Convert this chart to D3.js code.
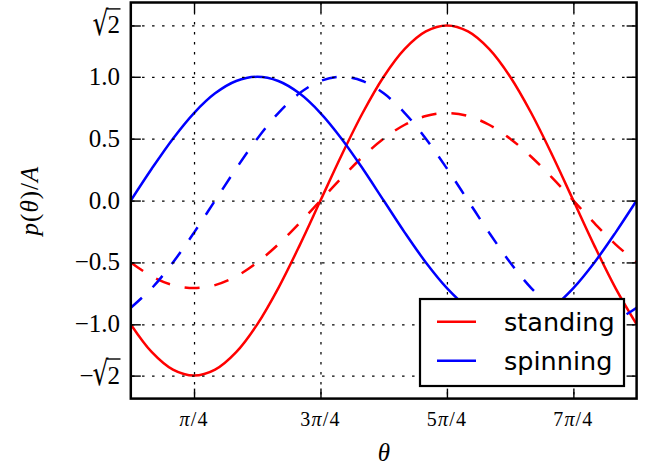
<!DOCTYPE html>
<html>
<head>
<meta charset="utf-8">
<script src="https://cdn.jsdelivr.net/npm/d3@7"></script>
<style>
  body { margin: 0; background: #fff; }
  svg { display: block; }
</style>
</head>
<body>
<svg id="chart" width="656" height="468"></svg>
<script>
// Angle samples (degrees) across one full turn
const thetaDeg = [0, 15, 30, 45, 60, 75, 90, 105, 120, 135, 150, 165, 180,
                  195, 210, 225, 240, 255, 270, 285, 300, 315, 330, 345, 360];

// Standing wave: full amplitude (solid) and half amplitude (dashed)
const standingSolid = [-1.0, -1.2247, -1.3660, -1.4142, -1.3660, -1.2247, -1.0, -0.7071, -0.3660,
                       0.0, 0.3660, 0.7071, 1.0, 1.2247, 1.3660, 1.4142, 1.3660, 1.2247, 1.0,
                       0.7071, 0.3660, 0.0, -0.3660, -0.7071, -1.0];
const standingDashed = [-0.5, -0.6124, -0.6830, -0.7071, -0.6830, -0.6124, -0.5, -0.3536, -0.1830,
                        0.0, 0.1830, 0.3536, 0.5, 0.6124, 0.6830, 0.7071, 0.6830, 0.6124, 0.5,
                        0.3536, 0.1830, 0.0, -0.1830, -0.3536, -0.5];

// Spinning wave: two phases
const spinningSolid = [0.0, 0.2588, 0.5, 0.7071, 0.8660, 0.9659, 1.0, 0.9659, 0.8660, 0.7071, 0.5,
                       0.2588, 0.0, -0.2588, -0.5, -0.7071, -0.8660, -0.9659, -1.0, -0.9659,
                       -0.8660, -0.7071, -0.5, -0.2588, 0.0];
const spinningDashed = [-0.8660, -0.7071, -0.5, -0.2588, 0.0, 0.2588, 0.5, 0.7071, 0.8660, 0.9659,
                        1.0, 0.9659, 0.8660, 0.7071, 0.5, 0.2588, 0.0, -0.2588, -0.5, -0.7071,
                        -0.8660, -0.9659, -1.0, -0.9659, -0.8660];

// Axis ticks and their labels
const xTicks = [45, 135, 225, 315];
const xTickLabels = ["π/4", "3π/4", "5π/4", "7π/4"];
const yTicks = [-1.41421356, -1.0, -0.5, 0.0, 0.5, 1.0, 1.41421356];
const yTickLabels = ["−√2", "−1.0", "−0.5", "0.0", "0.5", "1.0", "√2"];

const seriesNames = ["standing", "spinning"];
const seriesColors = ["#ff0000", "#0000ff"];

const svg = d3.select("#chart");
const plotLeft = 130.8, plotRight = 636.6, plotTop = 2.5, plotBottom = 398.6;
const W = plotRight - plotLeft, H = plotBottom - plotTop;

const x = d3.scaleLinear().domain([0, 360]).range([plotLeft, plotRight]);
const y = d3.scaleLinear().domain([-1.6, 1.6]).range([plotBottom, plotTop]);

const serif = "'Liberation Serif', 'DejaVu Serif', serif";
const sans = "'DejaVu Sans', sans-serif";

svg.append("defs").append("clipPath").attr("id", "plotClip")
  .append("rect").attr("x", plotLeft).attr("y", plotTop).attr("width", W).attr("height", H);

// Curves
const line = d3.line()
  .x((d, i) => x(thetaDeg[i]))
  .y(d => y(d))
  .curve(d3.curveCatmullRom.alpha(0.5));

const curves = [
  { data: standingSolid, color: seriesColors[0], dash: null },
  { data: standingDashed, color: seriesColors[0], dash: "15,15" },
  { data: spinningSolid, color: seriesColors[1], dash: null },
  { data: spinningDashed, color: seriesColors[1], dash: "15,15" }
];
const gLines = svg.append("g").attr("clip-path", "url(#plotClip)");
curves.forEach(c => {
  gLines.append("path")
    .attr("d", line(c.data))
    .attr("fill", "none")
    .attr("stroke", c.color)
    .attr("stroke-width", 2.5)
    .attr("stroke-dasharray", c.dash)
    .attr("stroke-linejoin", "round");
});

// Dotted grid
const gridV = svg.append("g").attr("transform", `translate(0,${plotBottom})`)
  .call(d3.axisBottom(x).tickValues(xTicks).tickSize(-H).tickFormat(""));
const gridH = svg.append("g").attr("transform", `translate(${plotLeft},0)`)
  .call(d3.axisLeft(y).tickValues(yTicks).tickSize(-W).tickFormat(""));
[gridV, gridH].forEach(g => {
  g.select(".domain").remove();
  g.selectAll(".tick line")
    .attr("stroke", "#000")
    .attr("stroke-width", 1.25)
    .attr("stroke-dasharray", "2.5,7.5");
});
gridV.selectAll(".tick line").attr("stroke-dashoffset", 6);
gridH.selectAll(".tick line").attr("stroke-dashoffset", 8.75);

// Inward ticks on all four sides
const tickAxes = [
  svg.append("g").attr("transform", `translate(0,${plotBottom})`)
    .call(d3.axisBottom(x).tickValues(xTicks).tickSize(-10).tickFormat("")),
  svg.append("g").attr("transform", `translate(0,${plotTop})`)
    .call(d3.axisTop(x).tickValues(xTicks).tickSize(-10).tickFormat("")),
  svg.append("g").attr("transform", `translate(${plotLeft},0)`)
    .call(d3.axisLeft(y).tickValues(yTicks).tickSize(-10).tickFormat("")),
  svg.append("g").attr("transform", `translate(${plotRight},0)`)
    .call(d3.axisRight(y).tickValues(yTicks).tickSize(-10).tickFormat(""))
];
tickAxes.forEach(g => {
  g.select(".domain").remove();
  g.selectAll(".tick line").attr("stroke", "#000").attr("stroke-width", 1.4);
});

// Frame
svg.append("rect")
  .attr("x", plotLeft).attr("y", plotTop).attr("width", W).attr("height", H)
  .attr("fill", "none").attr("stroke", "#000").attr("stroke-width", 2.5);

// Math-style text helper: Greek letters and Latin letters in italic
function mathText(sel, str) {
  const parts = str.match(/[A-Za-zπθ]+|[^A-Za-zπθ]+/g) || [];
  parts.forEach(p => {
    const t = sel.append("tspan").text(p);
    if (/[A-Za-zπθ]/.test(p)) t.attr("font-style", "italic");
  });
}

// X tick labels
xTicks.forEach((v, i) => {
  const t = svg.append("text")
    .attr("x", x(v)).attr("y", 426)
    .attr("text-anchor", "middle")
    .attr("font-family", serif).attr("font-size", 20)
    .attr("letter-spacing", 1.2);
  mathText(t, xTickLabels[i]);
});

// Y tick labels; square roots get a tall radical sign and a vinculum
const labelRight = 120, labelSize = 25;
yTicks.forEach((v, i) => {
  const lab = yTickLabels[i];
  const base = y(v) + 8;
  if (!lab.includes("√")) {
    svg.append("text")
      .attr("x", labelRight).attr("y", base)
      .attr("text-anchor", "end")
      .attr("font-family", serif).attr("font-size", labelSize)
      .text(lab);
    return;
  }
  const k = lab.indexOf("√");
  const radicand = svg.append("text")
    .attr("x", labelRight).attr("y", base)
    .attr("text-anchor", "end")
    .attr("font-family", serif).attr("font-size", labelSize)
    .text(lab.slice(k + 1));
  const numW = radicand.node().getComputedTextLength();
  const radRight = labelRight - numW + 1;
  const radical = svg.append("text")
    .attr("transform", `translate(${radRight},${base + 1.5}) scale(1,1.36)`)
    .attr("text-anchor", "end")
    .attr("font-family", "'DejaVu Serif', serif").attr("font-size", labelSize)
    .text("√");
  const radW = radical.node().getComputedTextLength();
  if (k > 0) {
    svg.append("text")
      .attr("x", radRight - radW + 1).attr("y", base)
      .attr("text-anchor", "end")
      .attr("font-family", serif).attr("font-size", labelSize)
      .text(lab.slice(0, k));
  }
  svg.append("line")
    .attr("x1", radRight - 1.6).attr("x2", labelRight + 0.5)
    .attr("y1", y(v) - 16.6).attr("y2", y(v) - 16.6)
    .attr("stroke", "#000").attr("stroke-width", 1.4);
});

// Axis titles
const xt = svg.append("text")
  .attr("x", 384).attr("y", 461)
  .attr("text-anchor", "middle")
  .attr("font-family", serif).attr("font-size", 25);
mathText(xt, "θ");

const yt = svg.append("text")
  .attr("transform", `translate(38,${(plotTop + plotBottom) / 2}) rotate(-90)`)
  .attr("text-anchor", "middle")
  .attr("font-family", serif).attr("font-size", 25)
  .attr("letter-spacing", 1);
mathText(yt, "p(θ)/A");

// Legend
const lg = svg.append("g");
lg.append("rect")
  .attr("x", 420).attr("y", 299).attr("width", 204).attr("height", 87)
  .attr("fill", "#fff").attr("stroke", "#000").attr("stroke-width", 2.2);
seriesNames.forEach((name, i) => {
  const cy = 321.7 + i * 39;
  lg.append("line")
    .attr("x1", 437).attr("x2", 476).attr("y1", cy).attr("y2", cy)
    .attr("stroke", seriesColors[i]).attr("stroke-width", 2.5);
  lg.append("text")
    .attr("x", 504).attr("y", cy + 9.5)
    .attr("font-family", sans).attr("font-size", 25.5)
    .text(name);
});
</script>
</body>
</html>
